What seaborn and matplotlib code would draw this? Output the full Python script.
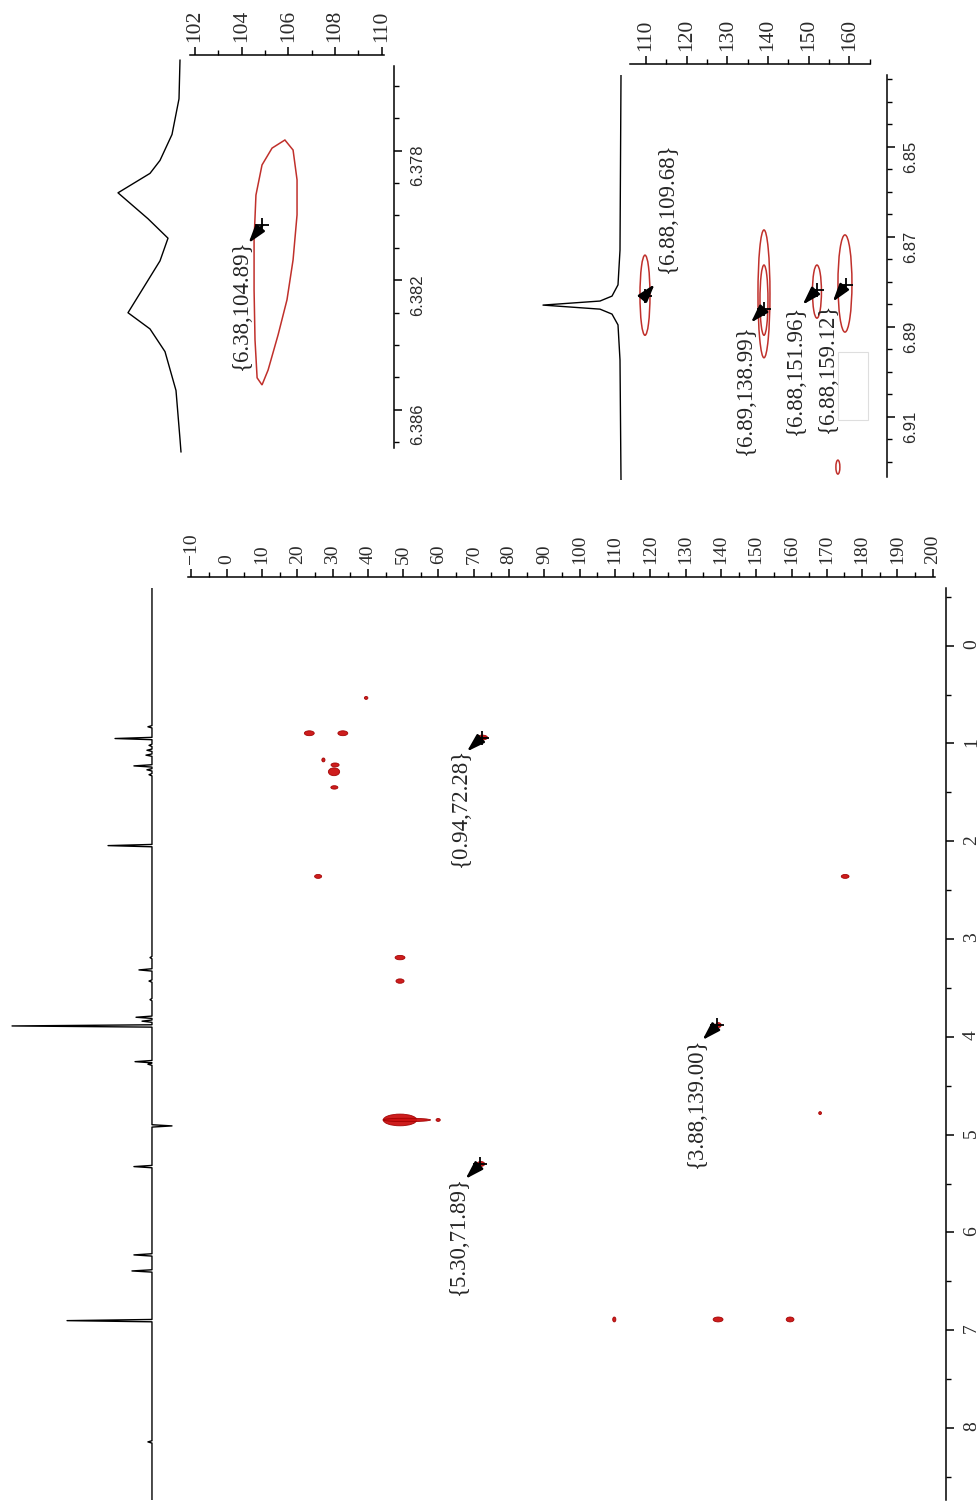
import numpy as np
import matplotlib
matplotlib.use("Agg")
import matplotlib.pyplot as plt
from matplotlib.patches import Ellipse, Polygon, Rectangle
from matplotlib.ticker import MultipleLocator, FixedLocator, FormatStrFormatter
import seaborn as sns

# ---------------- data ----------------
# 1H projection of the full spectrum (ppm, relative intensity)
h1_peak_ppm = [0.83, 0.95, 1.02, 1.07, 1.12, 1.23, 1.27, 1.32, 2.045, 3.19, 3.316,
               3.43, 3.62, 3.80, 3.84, 3.889, 4.254, 4.28, 4.911, 5.327, 6.230,
               6.394, 6.902, 8.142]
h1_peak_int = [2.9, 26.4, 2.1, 3.6, 4.3, 12.9, 3.6, 2.1, 31.4, 1.4, 9.3,
               2.1, 1.4, 11.4, 7.1, 100.0, 12.1, 2.9, -14.3, 12.9, 12.9,
               14.3, 60.7, 2.9]
h1_range = [-0.59, 8.76]

# 2D cross peaks of the full spectrum (13C ppm, 1H ppm, widths)
spot_c = [39.5, 23.4, 32.9, 27.4, 30.7, 30.4, 30.5, 25.9, 175.2, 49.1, 49.1,
          49.1, 51.0, 59.9, 168.1, 109.8, 139.2, 159.6, 72.4, 139.3, 72.0]
spot_h = [0.535, 0.896, 0.896, 1.169, 1.22, 1.29, 1.45, 2.36, 2.36, 3.19, 3.43,
          4.85, 4.85, 4.85, 4.78, 6.89, 6.89, 6.89, 0.94, 3.88, 5.30]
spot_wc = [1.0, 2.8, 2.8, 0.9, 2.3, 3.2, 2.0, 2.0, 2.2, 2.8, 2.3,
           9.5, 13.5, 1.2, 0.8, 0.9, 2.8, 2.2, 3.0, 1.6, 2.2]
spot_wh = [0.03, 0.05, 0.05, 0.04, 0.04, 0.08, 0.035, 0.04, 0.04, 0.045, 0.045,
           0.12, 0.035, 0.03, 0.03, 0.05, 0.05, 0.05, 0.05, 0.05, 0.05]

# picked peaks (1H, 13C)
main_pick_h = [0.94, 3.88, 5.30]
main_pick_c = [72.28, 139.00, 71.89]

# zoom 1: 1H projection around 6.38 ppm
z1_proj_h = [6.3752, 6.3764, 6.3775, 6.3783, 6.3787, 6.3793, 6.3801, 6.3807,
             6.3814, 6.3830, 6.3835, 6.3842, 6.3854, 6.3869, 6.3873]
z1_proj_i = [1, 2, 9, 21, 31, 63, 33, 13, 21, 53, 31, 16, 5, 1, 0]
# zoom 1: lowest contour outline (13C, 1H)
z1_cont_c = [105.85, 106.20, 106.37, 106.37, 106.20, 105.94, 105.56, 105.13,
             104.87, 104.66, 104.57, 104.53, 104.53, 104.61, 104.87, 105.30]
z1_cont_h = [6.37767, 6.37798, 6.37890, 6.37998, 6.38137, 6.38260, 6.38368, 6.38477,
             6.38523, 6.38501, 6.38384, 6.38230, 6.38076, 6.37937, 6.37844, 6.37792]
z1_pick_h = [6.3803]
z1_pick_c = [104.89]

# zoom 2: 1H projection around 6.88 ppm
z2_proj_h = [6.8341, 6.8730, 6.8807, 6.8832, 6.8843, 6.8852, 6.8861, 6.8872,
             6.8896, 6.8974, 6.9241]
z2_proj_i = [0, 1, 3, 9, 21, 78, 21, 9, 3, 1, 0]
# zoom 2: contour levels drawn as ellipses (13C, 1H, widths)
z2_cont_c = [109.75, 139.02, 139.02, 152.05, 158.94, 157.2]
z2_cont_h = [6.8830, 6.8827, 6.8841, 6.8822, 6.8804, 6.9212]
z2_cont_wc = [2.46, 2.95, 1.97, 2.21, 3.44, 0.98]
z2_cont_wh = [0.0178, 0.0284, 0.0156, 0.0118, 0.0216, 0.0031]
z2_pick_h = [6.8832, 6.8860, 6.8818, 6.8807]
z2_pick_c = [109.68, 138.99, 151.96, 159.12]

# ---------------- style ----------------
sns.set_theme(style="white")
plt.rcParams["font.family"] = ["Liberation Serif", "DejaVu Serif"]
plt.rcParams["axes.linewidth"] = 1.1
plt.rcParams["xtick.color"] = "black"
plt.rcParams["ytick.color"] = "black"
plt.rcParams["xtick.labelcolor"] = "#2a2a2a"
plt.rcParams["ytick.labelcolor"] = "#2a2a2a"

RED = "#cc1010"
CONT = "#c0302b"

W, H = 977, 1505
fig = plt.figure(figsize=(W / 100, H / 100), dpi=100)
fig.patch.set_facecolor("white")


def px_axes(x0, y0, x1, y1):
    a = fig.add_axes([x0 / W, 1 - y1 / H, (x1 - x0) / W, (y1 - y0) / H])
    a.set_facecolor("none")
    return a


def style_2d(ax, top_out, right_out, xmaj, xmin, ymaj, ymin, xsize, ysize):
    for s in ("left", "bottom"):
        ax.spines[s].set_visible(False)
    ax.spines["top"].set_position(("outward", top_out))
    ax.spines["right"].set_position(("outward", right_out))
    ax.spines["top"].set_color("black")
    ax.spines["right"].set_color("black")
    ax.xaxis.set_major_locator(xmaj)
    ax.xaxis.set_minor_locator(xmin)
    ax.yaxis.set_major_locator(ymaj)
    ax.yaxis.set_minor_locator(ymin)
    ax.tick_params(axis="x", which="both", top=True, bottom=False, labeltop=True,
                   labelbottom=False, direction="out", labelrotation=90,
                   labelsize=xsize, pad=3)
    ax.tick_params(axis="y", which="both", right=True, left=False, labelright=True,
                   labelleft=False, direction="out", labelrotation=90,
                   labelsize=ysize, pad=6)
    ax.tick_params(which="major", length=6, width=1.1)
    ax.tick_params(which="minor", length=3.5, width=1.0)
    ax.set_xlabel("")
    ax.set_ylabel("")


def sans_y_labels(ax):
    for t in ax.yaxis.get_major_ticks():
        t.label1.set_fontfamily("Liberation Sans")
        t.label2.set_fontfamily("Liberation Sans")


def pick_labels(ax, hs, cs, text_px, tail_px, va="top"):
    sns.scatterplot(x=cs, y=hs, marker="+", s=110, color="black", linewidth=1.3,
                    ax=ax, zorder=6, legend=False)
    for h, c, (tx, ty), (ax_, ay_) in zip(hs, cs, text_px, tail_px):
        ax.annotate("", xy=(c, h), xytext=(ax_ * 0.72, -ay_ * 0.72),
                    textcoords="offset points",
                    arrowprops=dict(arrowstyle="<|-,head_length=0.9,head_width=0.28",
                                    color="black", lw=1.7, shrinkA=0, shrinkB=0,
                                    mutation_scale=12), zorder=7)
        ax.annotate(f"{{{h:.2f},{c:.2f}}}", xy=(c, h),
                    xytext=(tx * 0.72, -ty * 0.72), textcoords="offset points",
                    rotation=90, ha="center", va=va, fontsize=16.5,
                    color="#262626", zorder=7)


def stick_trace(ppm, inten, lo, hi, half=0.012):
    xs, ys = [0.0], [lo]
    order = np.argsort(ppm)
    for i in order:
        p, v = ppm[i], inten[i]
        ys += [p - half, p, p + half]
        xs += [0.0, v, 0.0]
    ys.append(hi)
    xs.append(0.0)
    return np.array(xs), np.array(ys)


# ---------------- main 2D map ----------------
ax = px_axes(188, 588, 935, 1500)
ax.set_xlim(-10.96, 200.65)
ax.set_ylim(8.736, -0.589)
for c, h, wc, wh in zip(spot_c, spot_h, spot_wc, spot_wh):
    ax.add_patch(Ellipse((c, h), wc, wh, facecolor=RED, edgecolor="#a00000",
                         lw=0.6, alpha=0.95, zorder=3))
style_2d(ax, 8, 8, MultipleLocator(10), MultipleLocator(5), MultipleLocator(1),
         MultipleLocator(0.5), 14, 14)
main_text = [(-21, 10), (-21, 12), (-22, 12)]
main_tail = [(-15, 14), (-15, 15), (-15, 15)]
pick_labels(ax, main_pick_h, main_pick_c, main_text, main_tail)

# main 1H projection
axp = px_axes(0, 588, 185, 1500)
xs, ys = stick_trace(h1_peak_ppm, h1_peak_int, h1_range[0], h1_range[1])
sns.lineplot(x=xs, y=ys, sort=False, estimator=None, color="black", lw=1.0, ax=axp)
axp.set_xlim(108.6, -23.6)
axp.set_ylim(8.736, -0.589)
axp.axis("off")

# ---------------- zoom 1 ----------------
a1 = px_axes(190, 66, 384, 448)
a1.set_xlim(101.786, 110.094)
a1.set_ylim(6.387176, 6.375386)
a1.add_patch(Polygon(np.column_stack([z1_cont_c, z1_cont_h]), closed=True,
                     fill=False, edgecolor=CONT, lw=1.1, zorder=3))
style_2d(a1, 8, 7, MultipleLocator(2), MultipleLocator(1),
         FixedLocator([6.378, 6.382, 6.386]), MultipleLocator(0.001), 15.5, 12)
a1.yaxis.set_major_formatter(FormatStrFormatter("%.3f"))
pick_labels(a1, z1_pick_h, z1_pick_c, [(-21, 14)], [(-14, 18)])

p1 = px_axes(100, 58, 190, 455)
sns.lineplot(x=z1_proj_i, y=z1_proj_h, sort=False, estimator=None, color="black",
             lw=1.0, ax=p1)
p1.set_xlim(81, -9)
p1.set_ylim(6.38739, 6.37514)
p1.axis("off")

# ---------------- zoom 2 ----------------
a2 = px_axes(630, 75, 870, 477)
a2.set_xlim(106.065, 165.1)
a2.set_ylim(6.92340, 6.834067)
for c, h, wc, wh in zip(z2_cont_c, z2_cont_h, z2_cont_wc, z2_cont_wh):
    a2.add_patch(Ellipse((c, h), wc, wh, fill=False, edgecolor=CONT, lw=1.1, zorder=3))
a2.add_patch(Rectangle((157.2, 6.8957), 7.4, 0.0151, fill=False,
                       edgecolor="#dedede", lw=0.8, zorder=2))
style_2d(a2, 8, 12, MultipleLocator(10), MultipleLocator(5),
         FixedLocator([6.85, 6.87, 6.89, 6.91]), MultipleLocator(0.005), 15.5, 12)
a2.yaxis.set_major_formatter(FormatStrFormatter("%.2f"))
pick_labels(a2, z2_pick_h[:1], z2_pick_c[:1], [(23, -23)], [(10, -12)], va="bottom")
pick_labels(a2, z2_pick_h[1:], z2_pick_c[1:],
            [(-18, 16), (-21, 15), (-18, 18)],
            [(-13, 14), (-14, 15), (-13, 17)])

p2 = px_axes(530, 75, 630, 480)
sns.lineplot(x=z2_proj_i, y=z2_proj_h, sort=False, estimator=None, color="black",
             lw=1.0, ax=p2)
p2.set_xlim(91, -9)
p2.set_ylim(6.92407, 6.834067)
p2.axis("off")

sans_y_labels(a1)
sans_y_labels(a2)

fig.savefig("out.png", dpi=100, facecolor="white")
